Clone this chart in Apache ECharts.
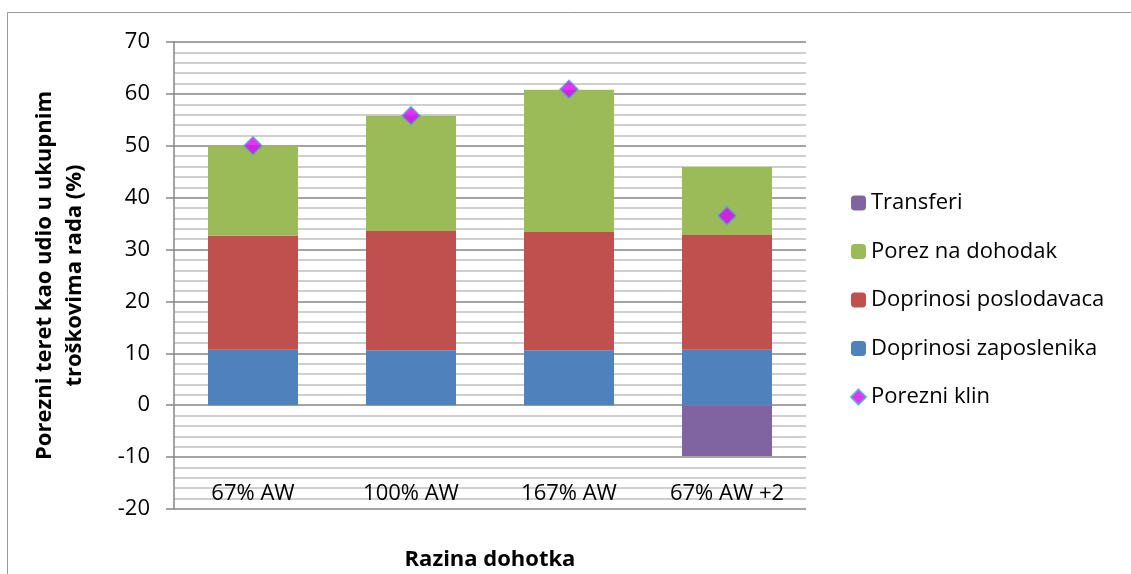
<!DOCTYPE html>
<html>
<head>
<meta charset="utf-8">
<script src="https://cdn.jsdelivr.net/npm/echarts@6/dist/echarts.min.js"></script>
<style>
  html, body { margin: 0; padding: 0; background: #fff; }
  #main { width: 1131px; height: 574px; }
</style>
</head>
<body>
<div id="main"></div>
<script>
  // kategorije (razina dohotka)
  const categories = ['67% AW', '100% AW', '167% AW', '67% AW +2'];
  // komponente poreznog klina, % ukupnih troškova rada
  const doprinosiZaposlenika = [10.7, 10.6, 10.6, 10.7];
  const doprinosiPoslodavaca = [22.0, 23.0, 22.8, 22.1];
  const porezNaDohodak = [17.3, 22.2, 27.4, 13.1];
  const transferi = [0, 0, 0, -9.8];
  const porezniKlin = [50.0, 55.8, 60.9, 36.5];

  const fontFam = '"Open Sans", "Noto Sans", sans-serif';

  let myChart = echarts.init(document.getElementById('main'));

  let option = {
    backgroundColor: '#fff',
    animation: false,
    textStyle: { fontFamily: fontFam, color: '#000' },
    // okvir oko grafikona
    graphic: [{
      type: 'rect',
      shape: { x: 7.5, y: 12.5, width: 1140, height: 580 },
      style: { fill: 'none', stroke: '#9a9a9a', lineWidth: 1 },
      silent: true
    }],
    grid: { left: 174, right: 325, top: 42, bottom: 65, outerBoundsMode: 'none' },
    legend: {
      orient: 'vertical',
      left: 845,
      top: 187,
      itemWidth: 15,
      itemHeight: 15,
      itemGap: 26.5,
      textStyle: { fontSize: 22, lineHeight: 22, fontFamily: fontFam, color: '#000' },
      data: ['Transferi', 'Porez na dohodak', 'Doprinosi poslodavaca', 'Doprinosi zaposlenika', 'Porezni klin']
    },
    xAxis: {
      type: 'category',
      data: categories,
      name: 'Razina dohotka',
      nameLocation: 'middle',
      nameGap: 40,
      nameTextStyle: { fontSize: 22, fontWeight: 'bold', color: '#000', fontFamily: fontFam },
      axisLine: { show: false },
      axisTick: { show: false },
      axisLabel: { inside: true, margin: 4, fontSize: 22, color: '#000', verticalAlign: 'bottom' }
    },
    yAxis: {
      type: 'value',
      min: -20,
      max: 70,
      interval: 10,
      name: 'Porezni teret kao udio u ukupnim\ntroškovima rada (%)',
      nameLocation: 'middle',
      nameGap: 84,
      nameTextStyle: { fontSize: 22, fontWeight: 'bold', color: '#000', lineHeight: 30, fontFamily: fontFam },
      axisLine: { show: true, lineStyle: { color: '#868686', width: 1.5 } },
      axisTick: { show: true, inside: false, length: 8, lineStyle: { color: '#868686', width: 1.5 } },
      axisLabel: { margin: 24, fontSize: 22, color: '#000' },
      splitLine: { show: true, lineStyle: { color: '#868686', width: 1.5 } },
      minorTick: { show: false, splitNumber: 5 },
      minorSplitLine: { show: true, lineStyle: { color: '#c0c0c0', width: 1.5 } }
    },
    series: [
      {
        name: 'Doprinosi zaposlenika', type: 'bar', stack: 'klin', barWidth: 90,
        itemStyle: { color: '#4f81bd' }, data: doprinosiZaposlenika
      },
      {
        name: 'Doprinosi poslodavaca', type: 'bar', stack: 'klin', barWidth: 90,
        itemStyle: { color: '#c0504d' }, data: doprinosiPoslodavaca
      },
      {
        name: 'Porez na dohodak', type: 'bar', stack: 'klin', barWidth: 90,
        itemStyle: { color: '#9bbb59' }, data: porezNaDohodak
      },
      {
        name: 'Transferi', type: 'bar', stack: 'klin', barWidth: 90,
        itemStyle: { color: '#8064a2' }, data: transferi
      },
      {
        name: 'Porezni klin', type: 'scatter', symbol: 'diamond', symbolSize: 18,
        itemStyle: { color: '#dd00ff', borderColor: '#4bacc6', borderWidth: 1.5 },
        data: porezniKlin, z: 5
      }
    ]
  };

  myChart.setOption(option);
  window.addEventListener('resize', function () { myChart.resize() });
</script>
</body>
</html>
